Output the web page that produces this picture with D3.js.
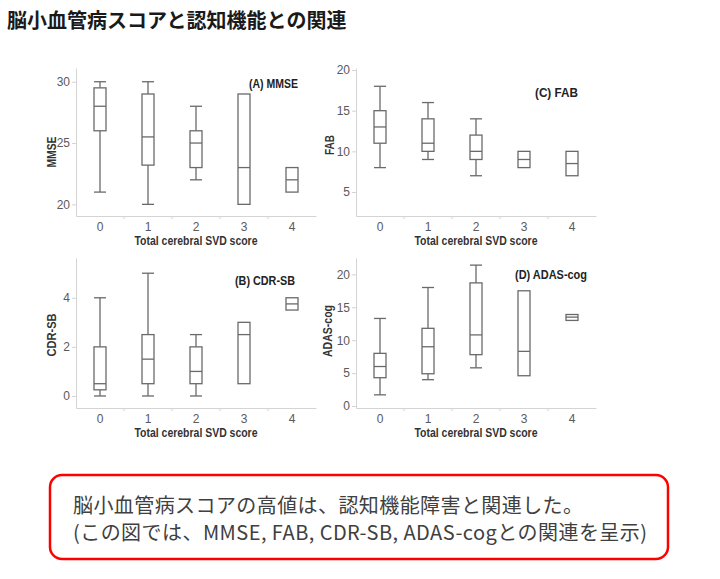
<!DOCTYPE html>
<html>
<head>
<meta charset="utf-8">
<script src="https://cdn.jsdelivr.net/npm/d3@7"></script>
<style>
  html, body { margin: 0; padding: 0; background: #fff; }
  svg { display: block; }
</style>
</head>
<body>
<svg id="chart" width="720" height="579"></svg>
<script>
// ---------- data ----------
const pageTitle = "脳小血管病スコアと認知機能との関連";
const noteLines = [
  "脳小血管病スコアの高値は、認知機能障害と関連した。",
  "(この図では、MMSE, FAB, CDR-SB, ADAS-cogとの関連を呈示)"
];
const categories = ["0", "1", "2", "3", "4"];
const xTitle = "Total cerebral SVD score";

// each entry: [min, q1, median, q3, max]
const mmse = [[21, 26, 28, 29.5, 30], [20, 23.2, 25.5, 29, 30], [22, 23, 25, 26, 28], [20, 20, 23, 29, 29], [21, 21, 22, 23, 23]];
const fab = [[8, 11, 13, 15, 18], [9, 10, 11, 14, 16], [7, 9, 10, 12, 14], [8, 8, 9, 10, 10], [7, 7, 8.5, 10, 10]];
const cdrsb = [[0, 0.25, 0.5, 2, 4], [0, 0.5, 1.5, 2.5, 5], [0, 0.5, 1, 2, 2.5], [0.5, 0.5, 2.5, 3, 3], [3.5, 3.5, 3.75, 4, 4]];
const adas = [[1.7, 4.3, 6, 8, 13.3], [4, 4.9, 9, 11.8, 18], [5.8, 7.8, 10.8, 18.7, 21.4], [4.6, 4.6, 8.3, 17.5, 17.5], [13, 13, 13.5, 13.9, 13.9]];

const mmseTicks = [20, 25, 30];
const fabTicks = [5, 10, 15, 20];
const cdrsbTicks = [0, 2, 4];
const adasTicks = [0, 5, 10, 15, 20];

// ---------- layout ----------
const panels = [
  { data: mmse, ticks: mmseTicks, yLabel: "MMSE", tag: "(A) MMSE",
    left: 76, right: 316, top: 68, bottom: 216, domain: [19.05, 31.12],
    yLabX: 56, yLabY: 152, yLabLen: 31,
    tagX: 249, tagY: 88, tagLen: 49 },
  { data: fab, ticks: fabTicks, yLabel: "FAB", tag: "(C) FAB",
    left: 356, right: 596, top: 68, bottom: 216, domain: [2.05, 20.25],
    yLabX: 334, yLabY: 145, yLabLen: 20,
    tagX: 535, tagY: 97, tagLen: 43 },
  { data: cdrsb, ticks: cdrsbTicks, yLabel: "CDR-SB", tag: "(B) CDR-SB",
    left: 76, right: 316, top: 258, bottom: 408, domain: [-0.49, 5.62],
    yLabX: 56, yLabY: 335, yLabLen: 43,
    tagX: 235, tagY: 285, tagLen: 60 },
  { data: adas, ticks: adasTicks, yLabel: "ADAS-cog", tag: "(D) ADAS-cog",
    left: 356, right: 596, top: 258, bottom: 408, domain: [-0.3, 22.48],
    yLabX: 332, yLabY: 331, yLabLen: 52,
    tagX: 515, tagY: 279, tagLen: 72 }
];

const boxW = 12;
const axisColor = "#d4d4d4";
const boxColor = "#6a6a6a";
const tickText = "#5a5a5a";
const boldText = "#333";
const latin = "'Liberation Sans', Arial, sans-serif";
const cjk = "'Noto Sans CJK JP', 'Noto Sans', sans-serif";

const svg = d3.select("#chart");

// page title
svg.append("text")
  .attr("x", 7).attr("y", 28)
  .attr("font-family", cjk).attr("font-size", 20).attr("font-weight", 700)
  .attr("fill", "#1a1a1a")
  .text(pageTitle);

panels.forEach(p => {
  const g = svg.append("g");
  const x = d3.scaleBand().domain(categories).range([p.left, p.right]).paddingInner(0).paddingOuter(0);
  const y = d3.scaleLinear().domain(p.domain).range([p.bottom, p.top]);

  // y axis
  const ya = g.append("g").attr("transform", `translate(${p.left},0)`)
    .call(d3.axisLeft(y).tickValues(p.ticks).tickFormat(d3.format("d"))
      .tickSize(4).tickSizeOuter(0).tickPadding(2));
  ya.select(".domain").attr("stroke", axisColor);
  ya.selectAll(".tick line").attr("stroke", axisColor);
  ya.selectAll(".tick text").attr("font-family", latin).attr("font-size", 12).attr("fill", tickText);

  // x axis: labels at band centres, small marks at band boundaries
  const xa = g.append("g").attr("transform", `translate(0,${p.bottom})`)
    .call(d3.axisBottom(x).tickSize(0).tickSizeOuter(0).tickPadding(6));
  xa.select(".domain").attr("stroke", axisColor);
  xa.selectAll(".tick text").attr("font-family", latin).attr("font-size", 12).attr("fill", tickText);
  g.selectAll(".sep").data(categories.slice(1)).join("line")
    .attr("x1", d => x(d)).attr("x2", d => x(d))
    .attr("y1", p.bottom).attr("y2", p.bottom + 3)
    .attr("stroke", axisColor);

  // x title
  g.append("text")
    .attr("x", (p.left + p.right) / 2).attr("y", p.bottom + 29)
    .attr("text-anchor", "middle")
    .attr("font-family", latin).attr("font-size", 13).attr("font-weight", 700)
    .attr("fill", boldText)
    .attr("textLength", 123).attr("lengthAdjust", "spacingAndGlyphs")
    .text(xTitle);

  // y title
  g.append("text")
    .attr("transform", `translate(${p.yLabX},${p.yLabY}) rotate(-90)`)
    .attr("text-anchor", "middle")
    .attr("font-family", latin).attr("font-size", 13).attr("font-weight", 700)
    .attr("fill", boldText)
    .attr("textLength", p.yLabLen).attr("lengthAdjust", "spacingAndGlyphs")
    .text(p.yLabel);

  // panel tag
  g.append("text")
    .attr("x", p.tagX).attr("y", p.tagY)
    .attr("font-family", latin).attr("font-size", 13).attr("font-weight", 700)
    .attr("fill", "#222")
    .attr("textLength", p.tagLen).attr("lengthAdjust", "spacingAndGlyphs")
    .text(p.tag);

  // boxes
  const cx = i => x(categories[i]) + x.bandwidth() / 2;
  const bx = g.selectAll(".box").data(p.data).join("g")
    .attr("fill", "none").attr("stroke", boxColor).attr("stroke-width", 1.3);
  // whiskers
  bx.append("line").attr("x1", (d, i) => cx(i)).attr("x2", (d, i) => cx(i))
    .attr("y1", d => y(d[4])).attr("y2", d => y(d[3]));
  bx.append("line").attr("x1", (d, i) => cx(i)).attr("x2", (d, i) => cx(i))
    .attr("y1", d => y(d[1])).attr("y2", d => y(d[0]));
  // caps (only when whisker extends beyond box)
  bx.filter(d => d[4] > d[3]).append("line")
    .attr("x1", d => cx(p.data.indexOf(d)) - boxW / 2)
    .attr("x2", d => cx(p.data.indexOf(d)) + boxW / 2)
    .attr("y1", d => y(d[4])).attr("y2", d => y(d[4]));
  bx.filter(d => d[0] < d[1]).append("line")
    .attr("x1", d => cx(p.data.indexOf(d)) - boxW / 2)
    .attr("x2", d => cx(p.data.indexOf(d)) + boxW / 2)
    .attr("y1", d => y(d[0])).attr("y2", d => y(d[0]));
  // box
  bx.append("rect")
    .attr("x", (d, i) => cx(i) - boxW / 2).attr("width", boxW)
    .attr("y", d => y(d[3])).attr("height", d => y(d[1]) - y(d[3]))
    .attr("fill", "#fff");
  // median
  bx.append("line")
    .attr("x1", (d, i) => cx(i) - boxW / 2).attr("x2", (d, i) => cx(i) + boxW / 2)
    .attr("y1", d => y(d[2])).attr("y2", d => y(d[2]));
});

// note box
svg.append("rect")
  .attr("x", 50).attr("y", 475).attr("width", 618).attr("height", 84)
  .attr("rx", 12).attr("ry", 12)
  .attr("fill", "#fff").attr("stroke", "#ff0000").attr("stroke-width", 2.5);

const noteLens = [510, 574];
svg.selectAll(".note").data(noteLines).join("text")
  .attr("x", 73).attr("y", (d, i) => 513 + i * 27)
  .attr("font-family", cjk).attr("font-size", 20).attr("font-weight", 400)
  .attr("fill", "#404040")
  .attr("textLength", (d, i) => noteLens[i]).attr("lengthAdjust", "spacing")
  .text(d => d);
</script>
</body>
</html>
